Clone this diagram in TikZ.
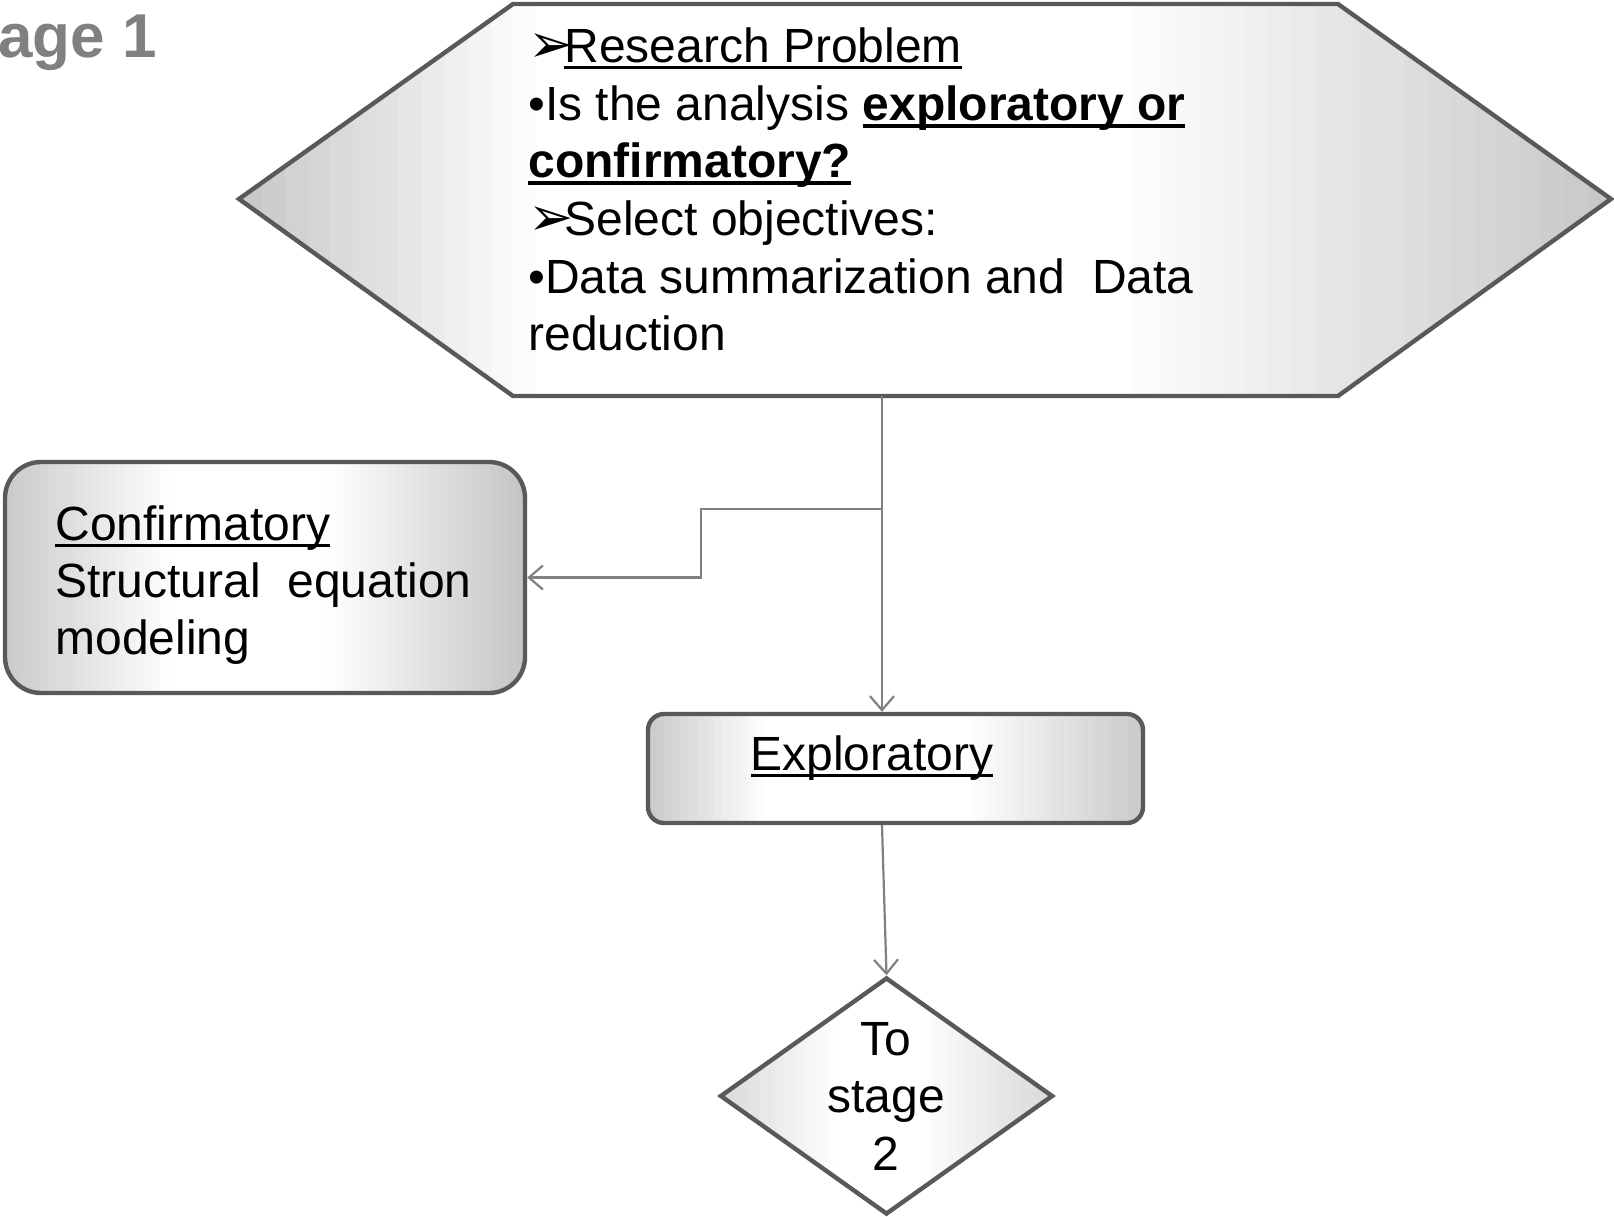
\documentclass[tikz,border=0pt]{standalone}
\usepackage{fontspec}
\setmainfont{Liberation Sans}
\newfontfamily\dejavu{DejaVu Sans}
\usetikzlibrary{arrows.meta,shapes.geometric,calc}
\newcommand{\myul}[3]{\setbox0=\hbox{#3}\rlap{\rule[#1]{\wd0}{#2}}\box0}
\newcommand{\arrowhd}{\makebox[18pt][l]{\dejavu\fontsize{27}{27}\selectfont ➢}}
% strip gradient: #1 left percent of black, #2 start of white, #3 end of white, #4 right percent
\newcommand{\stripfill}[4]{%
  \foreach \gi in {0,...,59}{%
    \pgfmathsetmacro{\gt}{(\gi+0.5)/60}%
    \pgfmathsetmacro{\gp}{\gt<#2 ? #1*(1-\gt/#2) : (\gt>#3 ? #4*(\gt-#3)/(1-#3) : 0)}%
    \pgfmathsetmacro{\ga}{\gi/60}%
    \pgfmathsetmacro{\gb}{(\gi+1)/60}%
    \fill[black!\gp, sharp corners] ($(gA)!\ga!(gA-|gB)$) rectangle ($(gA|-gB)!\gb!(gB)+(0.8pt,0)$);
  }}
\begin{document}
\begin{tikzpicture}[x=0.5pt,y=-0.5pt,
  shapeline/.style={draw=black!65, line width=2.2pt},
  gradpp/.style n args={4}{path picture={
      \path (path picture bounding box.south west) coordinate (gA)
            (path picture bounding box.north east) coordinate (gB);
      \stripfill{#1}{#2}{#3}{#4}
    }},
  conn/.style={draw=black!50, line width=1.1pt, -{Straight Barb[length=7pt,width=12pt]}},
  txt/.style={anchor=base west, inner sep=0pt, font=\fontsize{24}{28.8}\selectfont}]
\useasboundingbox (0,0) rectangle (1614,1217);

% stage title
\node[anchor=base west, inner sep=0pt, text=black!50, font=\bfseries\fontsize{31}{31}\selectfont] (stage) at (-2,57) {age 1};

% hexagon
\path[shapeline, gradpp={22}{0.22}{0.64}{22}] (239,199) -- (513,4) -- (1338,4) -- (1611,199) -- (1338,396) -- (513,396) -- cycle;
\coordinate (hexB) at (882,396);
\node[txt] (h1) at (528,62) {\arrowhd\myul{-3.5pt}{1.5pt}{Research Problem}};
\node[txt] (h2) at (528,120) {•Is the analysis \textbf{\myul{-4pt}{2pt}{exploratory or}}};
\node[txt] (h3) at (528,177) {\textbf{\myul{-4pt}{2pt}{confirmatory?}}};
\node[txt] (h4) at (528,235) {\arrowhd Select objectives:};
\node[txt] (h5) at (528,293) {•Data summarization and~ Data};
\node[txt] (h6) at (528,350) {reduction};

% confirmatory box
\node[shapeline, gradpp={21}{0.32}{0.62}{23}, rounded corners=18pt, minimum width=260pt, minimum height=115.5pt, inner sep=0pt] (conf) at (265,577.5) {};
\node[txt] (c1) at (55,540) {\myul{-3.5pt}{1.5pt}{Confirmatory}};
\node[txt] (c2) at (55,597) {Structural~ equation};
\node[txt] (c3) at (55,654) {modeling};

% exploratory box
\node[shapeline, gradpp={21}{0.24}{0.64}{21}, rounded corners=8pt, minimum width=247.5pt, minimum height=54.5pt, inner sep=0pt] (expl) at (895.5,768.5) {};
\node[anchor=base, inner sep=0pt, font=\fontsize{24}{28.8}\selectfont] (etext) at (872,770) {\myul{-3.5pt}{1.5pt}{Exploratory}};

% diamond
\node[shapeline, gradpp={15}{0.35}{0.6}{15}, diamond, minimum width=166.5pt, minimum height=118.5pt, inner sep=0pt] (dia) at (886.5,1096) {};
\node[align=center, inner sep=0pt, font=\fontsize{24}{28.75}\selectfont] (dtext) at (886,1096) {To\\stage\\2};

% connectors
\draw[conn] (hexB) -- (hexB |- expl.north);
\coordinate (br) at (882,509);
\coordinate (bend) at (701,509);
\draw[conn] (br) -- (bend) |- (conf.east);
\draw[conn] (hexB |- expl.south) -- (dia.north);
\end{tikzpicture}
\end{document}
